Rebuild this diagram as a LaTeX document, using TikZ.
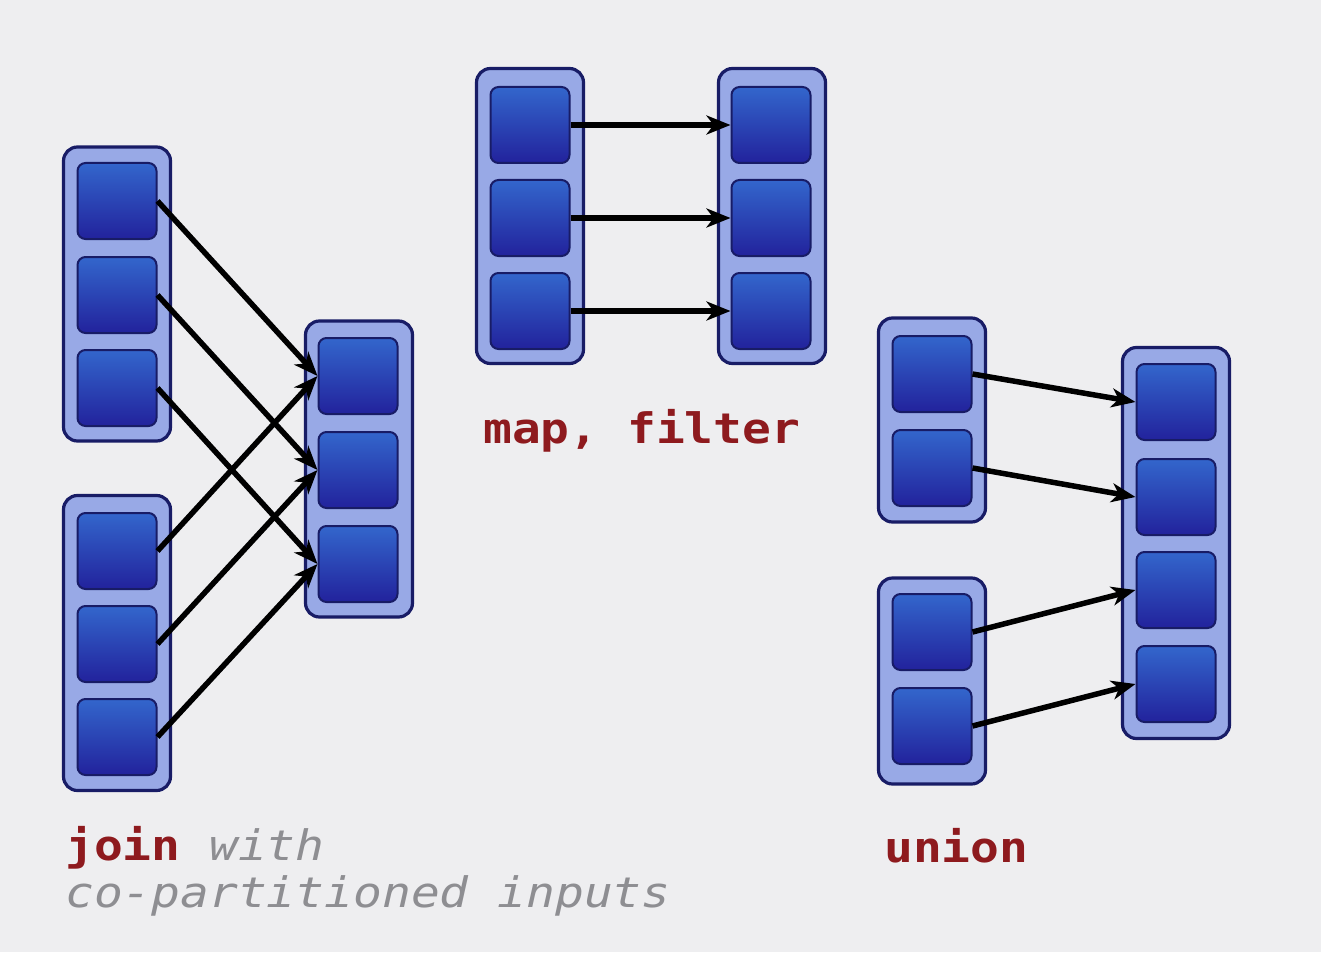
\documentclass[tikz,border=0pt]{standalone}
\usepackage{fontspec}
\usetikzlibrary{arrows.meta}
\newfontfamily\lblfont[FakeStretch=1.14]{DejaVu Sans Mono}
\definecolor{bg}{HTML}{EEEEF0}
\definecolor{contfill}{HTML}{98A9E6}
\definecolor{navy}{HTML}{181C66}
\definecolor{ptop}{HTML}{3366CC}
\definecolor{pbot}{HTML}{22229C}
\definecolor{lblred}{HTML}{8E1A1E}
\definecolor{lblgray}{HTML}{8E8E92}
\begin{document}
\begin{tikzpicture}[x=1pt,y=-1pt,
  cont/.style={draw=navy, fill=contfill, line width=3.2pt, rounded corners=14pt, minimum width=107pt, inner sep=0pt},
  part/.style={draw=navy, line width=2pt, rounded corners=8pt, top color=ptop, bottom color=pbot, minimum width=79pt, minimum height=76pt, inner sep=0pt},
  link/.style={line width=5.5pt, -{Stealth[length=24pt,width=19pt,inset=7pt]}},
  lbl/.style={anchor=base west, inner sep=0pt, font=\lblfont\fontsize{42}{47}\selectfont},
  hot/.style={lbl, text=lblred, font=\lblfont\bfseries\fontsize{42}{47}\selectfont},
  cool/.style={lbl, text=lblgray, font=\lblfont\itshape\fontsize{42}{47}\selectfont}]
\fill[bg] (0,0) rectangle (1321,952);
\useasboundingbox (0,0) rectangle (1321,952);

% join group
\node[cont, minimum height=294pt] (A1) at (117,294) {};
\node[part] (a1) at (117,201) {};
\node[part] (a2) at (117,295) {};
\node[part] (a3) at (117,388) {};
\node[cont, minimum height=295pt] (A2) at (117,643) {};
\node[part] (a4) at (117,551) {};
\node[part] (a5) at (117,644) {};
\node[part] (a6) at (117,737) {};
\node[cont, minimum height=296pt] (B) at (359,469) {};
\node[part] (b1) at (358,376) {};
\node[part] (b2) at (358,470) {};
\node[part] (b3) at (358,564) {};
\draw[link] (a1.east) -- (b1.west);
\draw[link] (a2.east) -- (b2.west);
\draw[link] (a3.east) -- (b3.west);
\draw[link] (a4.east) -- (b1.west);
\draw[link] (a5.east) -- (b2.west);
\draw[link] (a6.east) -- (b3.west);

% map, filter group
\node[cont, minimum height=295pt] (C1) at (530,216) {};
\node[part] (c1) at (530,125) {};
\node[part] (c2) at (530,218) {};
\node[part] (c3) at (530,311) {};
\node[cont, minimum height=295pt] (C2) at (772,216) {};
\node[part] (d1) at (771,125) {};
\node[part] (d2) at (771,218) {};
\node[part] (d3) at (771,311) {};
\draw[link] (c1.east) -- (d1.west);
\draw[link] (c2.east) -- (d2.west);
\draw[link] (c3.east) -- (d3.west);

% union group
\node[cont, minimum height=204pt] (D1) at (932,420) {};
\node[part] (e1) at (932,374) {};
\node[part] (e2) at (932,468) {};
\node[cont, minimum height=206pt] (D2) at (932,681) {};
\node[part] (e3) at (932,632) {};
\node[part] (e4) at (932,726) {};
\node[cont, minimum height=391pt] (E) at (1176,543) {};
\node[part] (f1) at (1176,402) {};
\node[part] (f2) at (1176,497) {};
\node[part] (f3) at (1176,590) {};
\node[part] (f4) at (1176,684) {};
\draw[link] (e1.east) -- (f1.west);
\draw[link] (e2.east) -- (f2.west);
\draw[link] (e3.east) -- (f3.west);
\draw[link] (e4.east) -- (f4.west);

% labels
\node[hot] (mapl) at (483,443) {map, filter};
\node[lbl] (joinl) at (65,860) {\textcolor{lblred}{\bfseries join} \textcolor{lblgray}{\itshape with}};
\node[cool] (copl) at (65,907) {co-partitioned inputs};
\node[hot] (unionl) at (884,862) {union};
\end{tikzpicture}
\end{document}
